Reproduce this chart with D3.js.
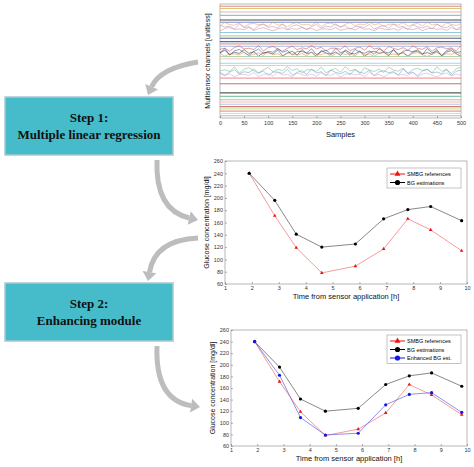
<!DOCTYPE html>
<html><head><meta charset="utf-8">
<script src="https://cdn.jsdelivr.net/npm/d3@7"></script>
<style>body{margin:0;background:#fff}svg{display:block}</style>
</head><body>
<script>
// glucose data
var hours = [1.9, 2.85, 3.65, 4.6, 5.85, 6.9, 7.8, 8.65, 9.8];
var smbg = [240, 171, 119, 78, 89, 117, 166, 148, 114];
var bgEst = [240, 196, 141, 120, 125, 166, 181, 186, 163];
var enhanced = [240, 182, 109, 79, 82, 131, 149, 152, 118];
var glucoseTicks = [60, 80, 100, 120, 140, 160, 180, 200, 220, 240, 260];
var hourTicks = [1, 2, 3, 4, 5, 6, 7, 8, 9, 10];
var sampleTicks = [0, 50, 100, 150, 200, 250, 300, 350, 400, 450, 500];

// multisensor channels: baseline level (0 bottom .. 100 top), colour, noise amplitude
var chLevels = [98, 96, 93, 90, 86, 84, 82, 80, 78, 75, 72, 70, 67, 65, 63, 61, 58, 57, 56, 54, 52, 48, 46, 42, 40, 38, 35, 30, 22, 19, 16, 14, 12, 10, 8, 6, 4, 2];
var chColors = ["#e07070", "#d0c060", "#f0a0a0", "#70c0c0", "#333333", "#6080d0", "#e0a040", "#c080c0", "#d08080", "#80c0e0", "#b0d080", "#404090", "#3050a0", "#e09090", "#90b0e0", "#d04040", "#2040a0", "#202020", "#e08030", "#a0d0a0", "#f0c0c0", "#90d0e0", "#e0d080", "#70b070", "#6090d0", "#c0a0e0", "#f09090", "#d05050", "#404040", "#70c0a0", "#e0a070", "#f0b0b0", "#a0c0e0", "#d06060", "#c0e0a0", "#e09070", "#f0d0a0", "#b0b0b0"];
var chNoise = [0, 0, 0, 0, 0, 0, 2, 2.5, 1.5, 0, 0, 0, 0, 0, 0, 2.5, 3, 3, 2, 0, 0, 0, 0, 3, 3, 2, 0, 0, 0, 0, 0, 0, 0, 0, 0, 0, 0, 0];
var wiggle = [0.2, -0.8, 1.0, -0.3, 0.1, -1.0, 0.4, 0.9, -0.2, 0.1, -0.4, 1.0, -0.9, 0.3, 0.7, -0.2, -1.0, 0.1, 0.8, -0.5, 0.2, -0.1, 1.0, -0.1, 0.4, -0.9, 0.1, 0.1, -0.3, 0.9, -0.8, 0.0, 0.5, -0.6, 1.0, -0.2, 0.2, -1.0, 0.7, 0.0, -0.4, 0.3, -0.7, 0.9, 0.0, -0.3, 0.6, -1.0, 0.2, 0.5, -0.1];

var svg = d3.select("body").append("svg").attr("width", 474).attr("height", 467)
  .style("font-family", "Liberation Sans, Arial, sans-serif");

function styleAxis(g) {
  g.select(".domain").remove();
  g.selectAll("line").attr("stroke", "#666").attr("stroke-width", 0.5);
  g.selectAll("text").attr("font-size", 5.5).attr("fill", "#333")
    .style("font-family", "Liberation Sans, Arial, sans-serif");
}

// ---------- top panel: multisensor channels
var t = {l: 220, r: 461, t: 4, b: 118};
var xs = d3.scaleLinear().domain([0, 500]).range([t.l, t.r]);
var ys = d3.scaleLinear().domain([0, 100]).range([t.b, t.t]);
var topG = svg.append("g");
topG.append("rect").attr("x", t.l).attr("y", t.t).attr("width", t.r - t.l).attr("height", t.b - t.t)
  .attr("fill", "#fff").attr("stroke", "#888").attr("stroke-width", 0.6);
var chLine = d3.line().x(function (d) { return xs(d[0]); }).y(function (d) { return ys(d[1]); });
chLevels.forEach(function (lv, i) {
  var pts = wiggle.map(function (w, k) {
    var idx = (k + i * 7) % wiggle.length;
    return [k * 10, lv + wiggle[idx] * chNoise[i]];
  });
  topG.append("path").attr("d", chLine(pts)).attr("fill", "none")
    .attr("stroke", chColors[i]).attr("stroke-width", chNoise[i] ? 0.6 : 1.1).attr("opacity", 0.85);
});
topG.append("g").attr("transform", "translate(0," + t.b + ")")
  .call(d3.axisBottom(xs).tickValues(sampleTicks).tickSize(-2).tickPadding(3))
  .call(styleAxis);
svg.append("text").attr("x", (t.l + t.r) / 2).attr("y", 137).attr("text-anchor", "middle")
  .attr("font-size", 7.5).attr("fill", "#111").text("Samples");
svg.append("text").attr("transform", "translate(210," + ((t.t + t.b) / 2) + ") rotate(-90)")
  .attr("text-anchor", "middle").attr("font-size", 7).attr("fill", "#111").text("Multisensor channels [unitless]");

// ---------- glucose panels
function glucosePanel(box, series, legendY) {
  var x = d3.scaleLinear().domain([1, 10]).range([box.l, box.r]);
  var y = d3.scaleLinear().domain([60, 260]).range([box.b, box.t]);
  var g = svg.append("g");
  g.append("rect").attr("x", box.l).attr("y", box.t).attr("width", box.r - box.l).attr("height", box.b - box.t)
    .attr("fill", "#fff").attr("stroke", "#888").attr("stroke-width", 0.6);
  g.append("g").attr("transform", "translate(0," + box.b + ")")
    .call(d3.axisBottom(x).tickValues(hourTicks).tickSize(-2).tickPadding(2)).call(styleAxis);
  g.append("g").attr("transform", "translate(" + box.l + ",0)")
    .call(d3.axisLeft(y).tickValues(glucoseTicks).tickSize(-2).tickPadding(2)).call(styleAxis);
  var line = d3.line().x(function (d, i) { return x(hours[i]); }).y(function (d) { return y(d); });
  series.forEach(function (s) {
    g.append("path").attr("d", line(s.values)).attr("fill", "none")
      .attr("stroke", s.line).attr("stroke-width", 0.7);
    s.values.forEach(function (v, i) {
      marker(g, x(hours[i]), y(v), s.shape, s.color, 1.6);
    });
  });
  // legend
  var lh = series.length * 8.5 + 3;
  g.append("rect").attr("x", 387).attr("y", legendY).attr("width", 74).attr("height", lh)
    .attr("fill", "#fff").attr("stroke", "#888").attr("stroke-width", 0.5);
  series.forEach(function (s, i) {
    var yy = legendY + 6 + i * 8.5;
    g.append("line").attr("x1", 390).attr("x2", 405).attr("y1", yy).attr("y2", yy)
      .attr("stroke", s.color).attr("stroke-width", 1);
    marker(g, 397.5, yy, s.shape, s.color, 2.6);
    g.append("text").attr("x", 407).attr("y", yy + 2).attr("font-size", 5.5).text(s.name);
  });
  svg.append("text").attr("x", (box.l + box.r) / 2).attr("y", box.b + 15).attr("text-anchor", "middle")
    .attr("font-size", 7.5).attr("fill", "#111").text("Time from sensor application [h]");
  svg.append("text").attr("transform", "translate(" + (box.l - 16) + "," + ((box.t + box.b) / 2) + ") rotate(-90)")
    .attr("text-anchor", "middle").attr("font-size", 7).attr("fill", "#111").text("Glucose concentration [mg/dl]");
}

function marker(g, cx, cy, shape, color, r) {
  if (shape === "tri") {
    g.append("path").attr("d", d3.symbol(d3.symbolTriangle, r * r * 2.2)())
      .attr("transform", "translate(" + cx + "," + cy + ")").attr("fill", color);
  } else {
    g.append("circle").attr("cx", cx).attr("cy", cy).attr("r", r).attr("fill", color);
  }
}

var sSmbg = {name: "SMBG references", values: smbg, color: "#ee1111", line: "#f07070", shape: "tri"};
var sBg = {name: "BG estimations", values: bgEst, color: "#000", line: "#555", shape: "dot"};
var sEnh = {name: "Enhanced BG est.", values: enhanced, color: "#1515dd", line: "#6060e0", shape: "dot"};

glucosePanel({l: 225, r: 467, t: 161, b: 284}, [sSmbg, sBg], 168);
glucosePanel({l: 231, r: 467, t: 330, b: 446}, [sSmbg, sBg, sEnh], 335);

// ---------- step boxes
function stepBox(y, l1, l2) {
  svg.append("rect").attr("x", 5).attr("y", y).attr("width", 168).attr("height", 58)
    .attr("fill", "#46bccb").attr("stroke", "#a9c9cf").attr("stroke-width", 1.5);
  svg.append("text").attr("x", 89).attr("y", y + 25).attr("text-anchor", "middle").attr("fill", "#111")
    .attr("font-family", "Liberation Serif, serif").attr("font-weight", "bold").attr("font-size", 13).text(l1);
  svg.append("text").attr("x", 89).attr("y", y + 42).attr("text-anchor", "middle").attr("fill", "#111")
    .attr("font-family", "Liberation Serif, serif").attr("font-weight", "bold").attr("font-size", 13).text(l2);
}
stepBox(97, "Step 1:", "Multiple linear regression");
stepBox(283, "Step 2:", "Enhancing module");

// ---------- curved arrows
function arrow(x0, y0, cx, cy, x1, y1) {
  var ang = Math.atan2(y1 - cy, x1 - cx);
  var bx = x1 - 9 * Math.cos(ang), by = y1 - 9 * Math.sin(ang);
  svg.append("path").attr("d", "M" + x0 + "," + y0 + " Q" + cx + "," + cy + " " + bx + "," + by)
    .attr("fill", "none").attr("stroke", "#bdbdbd").attr("stroke-width", 5);
  var px = Math.cos(ang + Math.PI / 2) * 7, py = Math.sin(ang + Math.PI / 2) * 7;
  svg.append("path").attr("d", "M" + x1 + "," + y1 + " L" + (bx + px) + "," + (by + py) + " L" + (bx - px) + "," + (by - py) + "Z")
    .attr("fill", "#bdbdbd");
}
arrow(198, 62, 160, 68, 148, 95);
arrow(157, 160, 155, 210, 198, 220);
arrow(198, 238, 155, 240, 148, 281);
arrow(157, 346, 155, 400, 200, 407);
</script>
</body></html>
